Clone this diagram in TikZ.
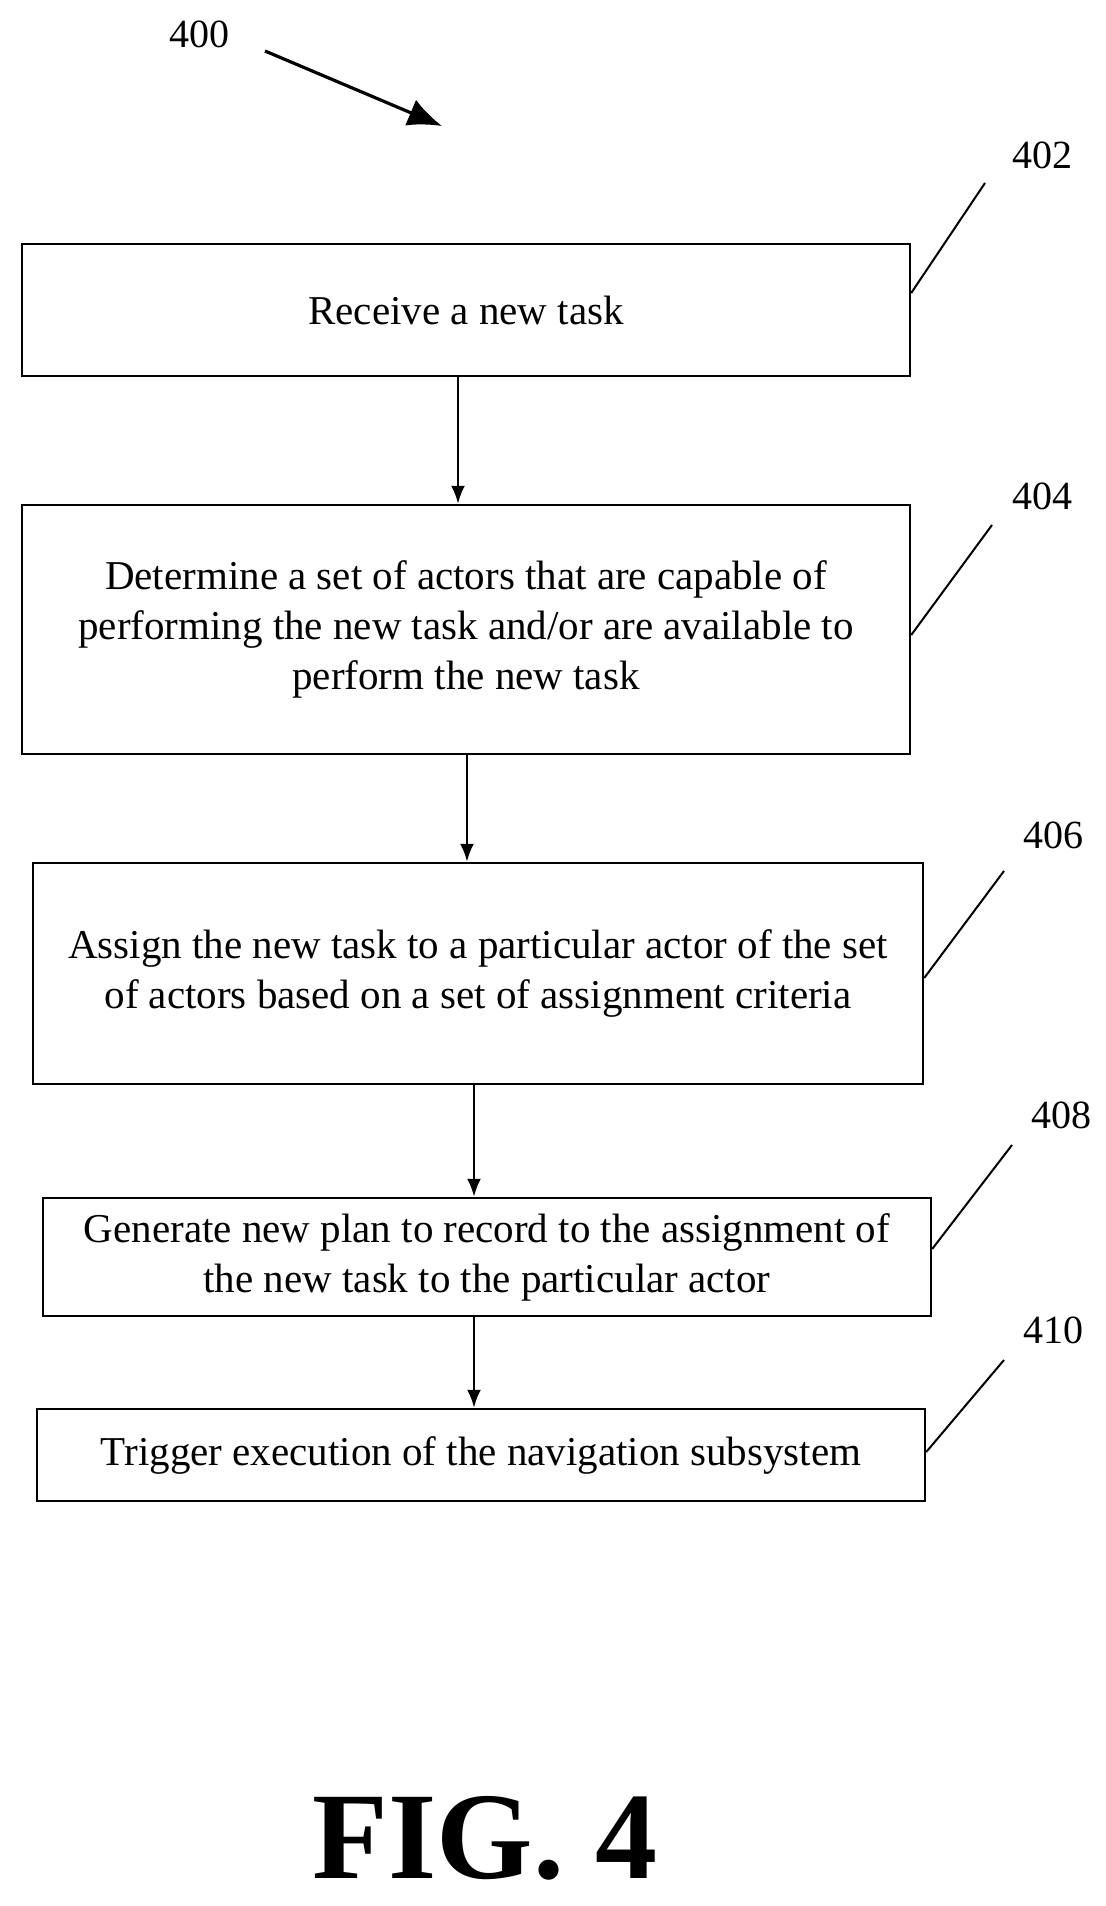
\documentclass[tikz,border=0pt]{standalone}
\usepackage{fontspec}
\usetikzlibrary{arrows.meta}
\setmainfont{Liberation Serif}
\begin{document}
\begin{tikzpicture}[x=0.5pt,y=-0.5pt,
  box/.style={draw,line width=1.2pt,inner sep=0pt,align=center,font=\fontsize{20.5}{25}\selectfont},
  lbl/.style={font=\fontsize{20}{22}\selectfont},
  arr/.style={-{Latex[length=9pt,width=7pt]},line width=1.3pt},
  lead/.style={line width=1pt}]
\useasboundingbox (0,0) rectangle (1106,1906);
\node[lbl] (l400) at (199,34) {400};
\coordinate (a0) at (265,51);
\coordinate (a1) at (442,126);
\draw[line width=1.6pt,-{Latex[length=17pt,width=14pt]}] (a0) -- (a1);
\node[box,minimum width=444pt,minimum height=66pt] (b402) at (466,310) {Receive a new task};
\node[box,minimum width=444pt,minimum height=124.5pt] (b404) at (466,629.5) {Determine a set of actors that are capable of\\performing the new task and/or are available to\\perform the new task};
\node[box,minimum width=445pt,minimum height=110.5pt] (b406) at (478,973.5) {Assign the new task to a particular actor of the set\\of actors based on a set of assignment criteria};
\node[box,minimum width=444pt,minimum height=59pt] (b408) at (487,1257) {Generate new plan to record to the assignment of\\the new task to the particular actor};
\node[box,minimum width=444pt,minimum height=46pt] (b410) at (481,1455) {Trigger execution of the navigation subsystem};
\draw[arr] (b402.south -| 458,0) -- (b404.north -| 458,0);
\draw[arr] (b404.south -| 467,0) -- (b406.north -| 467,0);
\draw[arr] (b406.south -| 474,0) -- (b408.north -| 474,0);
\draw[arr] (b408.south -| 474,0) -- (b410.north -| 474,0);
\node[lbl] (l402) at (1042,155) {402};
\node[lbl] (l404) at (1042,496) {404};
\node[lbl] (l406) at (1053,835) {406};
\node[lbl] (l408) at (1061,1115) {408};
\node[lbl] (l410) at (1053,1330) {410};
\coordinate (c402) at (985,183); \coordinate (c404) at (992,525);
\coordinate (c406) at (1004,871); \coordinate (c408) at (1012,1145);
\coordinate (c410) at (1004,1360);
\draw[lead] (c402) -- (b402.east |- 0,293);
\draw[lead] (c404) -- (b404.east |- 0,635);
\draw[lead] (c406) -- (b406.east |- 0,978);
\draw[lead] (c408) -- (b408.east |- 0,1249);
\draw[lead] (c410) -- (b410.east |- 0,1452);
\node[font=\fontsize{62}{62}\selectfont\bfseries] (fig) at (485,1838) {FIG. 4};
\end{tikzpicture}
\end{document}
